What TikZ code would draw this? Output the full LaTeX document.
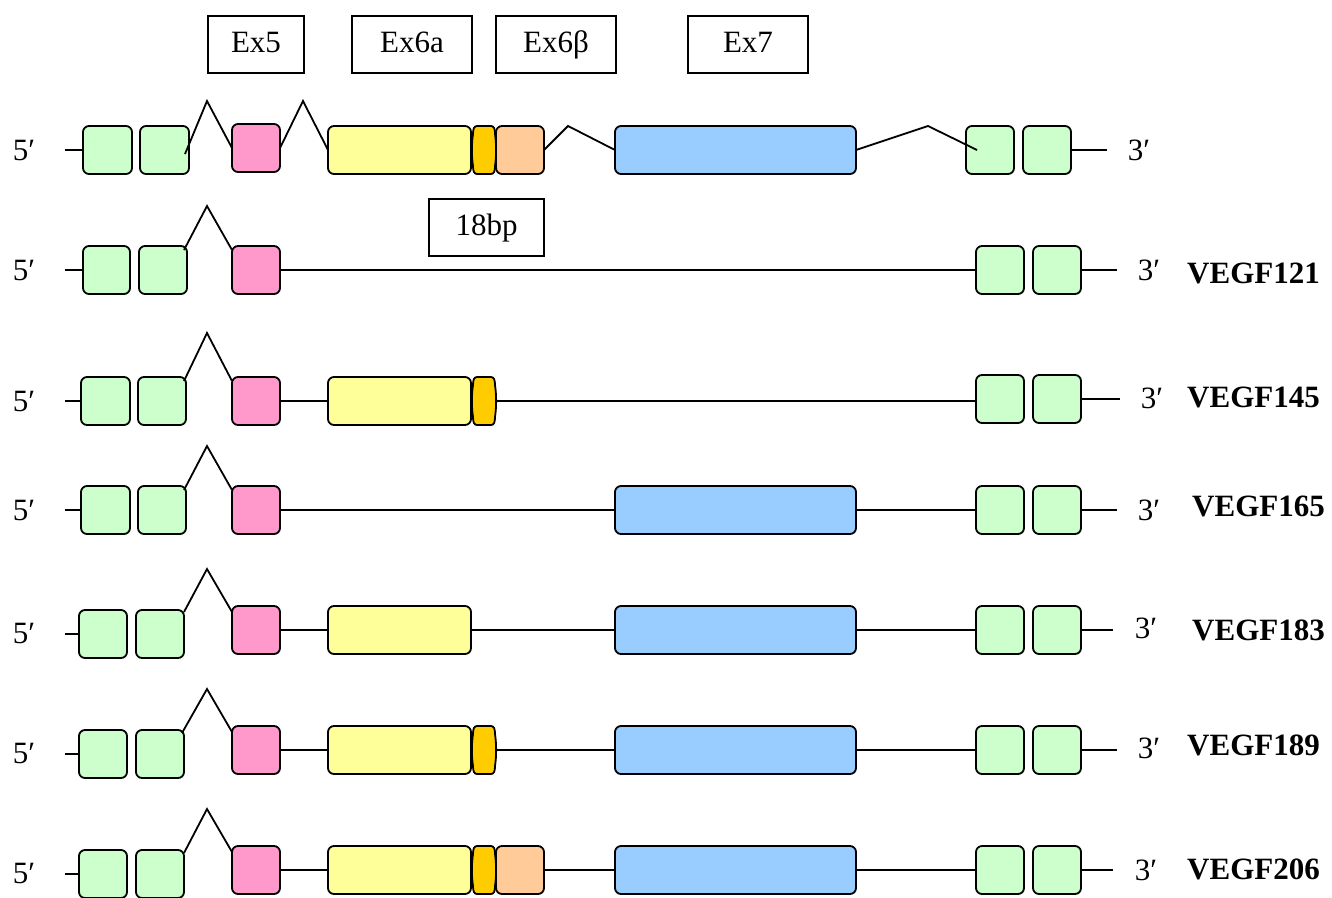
\documentclass[tikz,border=0pt]{standalone}
\usepackage{fontspec}
\setmainfont{Liberation Serif}
\definecolor{exgreen}{HTML}{CCFFCC}
\definecolor{expink}{HTML}{FF99CC}
\definecolor{exyellow}{HTML}{FFFF99}
\definecolor{exorange}{HTML}{FFCC00}
\definecolor{expeach}{HTML}{FFCC99}
\definecolor{exblue}{HTML}{99CCFF}
% \exon{name}{x1}{x2}{y1}{y2}{colour}
\newcommand\exon[6]{\node[exonbox,fill=#6,minimum width=#3pt-#2pt,minimum height=#5pt-#4pt] (#1) at ({(#2+#3)/2},{(#4+#5)/2}) {};}
% small barrel-shaped exon 6b segment: \barrel{name}{x}{top}{bottom}
\newcommand\barrel[4]{%
  \fill[exorange,draw=black,line width=1.8pt,line join=round]
    (477,#3) -- (491,#3) .. controls (494,#3) and (495,{#3+3}) .. (495,{#3+8})
    .. controls (496.5,{#3+18}) and (496.5,{#4-18}) .. (495,{#4-8})
    .. controls (495,{#4-3}) and (494,#4) .. (491,#4)
    -- (477,#4) .. controls (474,#4) and (473,{#4-3}) .. (473,{#4-8})
    .. controls (471.5,{#4-18}) and (471.5,{#3+18}) .. (473,{#3+8})
    .. controls (473,{#3+3}) and (474,#3) .. (477,#3) -- cycle;
  \coordinate (#1-e) at (496,{(#3+#4)/2});
  \coordinate (#1) at (484,{(#3+#4)/2});}
\tikzset{
  exonbox/.style={draw=black,line width=1.8pt,rounded corners=6pt,inner sep=0pt,outer sep=0pt},
  lbox/.style={draw=black,line width=1.2pt,inner sep=0pt,text height=21pt,text depth=6pt,font=\fontsize{31}{36}\selectfont},
  conn/.style={line width=1.8pt,line join=miter},
  prime/.style={inner sep=0pt,font=\fontsize{31}{36}\selectfont},
  vname/.style={inner sep=0pt,anchor=west,font=\fontsize{31}{36}\selectfont\bfseries},
}
\begin{document}
\begin{tikzpicture}[x=1pt,y=-1pt]
\useasboundingbox (0,0) rectangle (1332,897);
\clip (0,0) rectangle (1332,897);
% header labels
\node[lbox,minimum width=96pt,minimum height=57pt] (lex5) at (256,44.5) {Ex5};
\node[lbox,minimum width=120pt,minimum height=57pt] (lex6a) at (412,44.5) {Ex6a};
\node[lbox,minimum width=120pt,minimum height=57pt] (lex6b) at (556,44.5) {Ex6β};
\node[lbox,minimum width=120pt,minimum height=57pt] (lex7) at (748,44.5) {Ex7};
\node[lbox,minimum width=115pt,minimum height=57pt] (l18) at (486.5,227.5) {18bp};

% ---------- Row 1: gene ----------
\coordinate (a5) at (65,150);
\coordinate (a3) at (1107,150);
\node[prime] (a5t) at (24,150) {5′};
\node[prime] (a3t) at (1139,150) {3′};
\exon{ag1}{83}{132}{126}{174}{exgreen}
\exon{ag2}{140}{189}{126}{174}{exgreen}
\exon{ap}{232}{280}{124}{172}{expink}
\exon{ay}{328}{471}{126}{174}{exyellow}
\barrel{ao}{473}{126}{174}
\exon{apc}{496}{544}{126}{174}{expeach}
\exon{ab}{615}{856}{126}{174}{exblue}
\exon{ag3}{966}{1014}{126}{174}{exgreen}
\exon{ag4}{1023}{1071}{126}{174}{exgreen}
\coordinate (ak1) at (207,101);
\coordinate (ak2) at (303,101);
\coordinate (ak3) at (568,126);
\coordinate (ak4) at (928,126);
\draw[conn] (a5) -- (a5 -| ag1.west);
\draw[conn] (ag4.east) -- (ag4.east -| a3);
\draw[conn] ([xshift=-4pt,yshift=-4pt]ag2.east) -- (ak1) -- (ap.west);
\draw[conn] (ap.east) -- (ak2) -- (ay.west);
\draw[conn] (apc.east) -- (ak3) -- (ab.west);
\draw[conn] (ab.east) -- (ak4) -- ([xshift=11pt]ag3.west);

% ---------- Row 2: VEGF121 ----------
\coordinate (b5) at (65,270);
\coordinate (b3) at (1117,270);
\node[prime] (b5t) at (24,270) {5′};
\node[prime] (b3t) at (1149,270) {3′};
\node[vname] (bn) at (1187,273) {VEGF121};
\exon{bg1}{83}{130}{246}{294}{exgreen}
\exon{bg2}{139}{187}{246}{294}{exgreen}
\exon{bp}{232}{280}{246}{294}{expink}
\exon{bg3}{976}{1024}{246}{294}{exgreen}
\exon{bg4}{1033}{1081}{246}{294}{exgreen}
\coordinate (bk1) at (207,206);
\draw[conn] (b5) -- (b5 -| bg1.west);
\draw[conn] (bg4.east) -- (bg4.east -| b3);
\draw[conn] ([xshift=-3pt,yshift=20pt]bg2.east) -- (bk1) -- ([yshift=20pt]bp.west);
\draw[conn] (bp.east) -- (bp.east -| bg3.west);

% ---------- Row 3: VEGF145 ----------
\coordinate (c5) at (65,401);
\coordinate (c3) at (1120,401);
\node[prime] (c5t) at (24,401) {5′};
\node[prime] (c3t) at (1152,398) {3′};
\node[vname] (cn) at (1187,397) {VEGF145};
\exon{cg1}{81}{130}{377}{425}{exgreen}
\exon{cg2}{138}{186}{377}{425}{exgreen}
\exon{cp}{232}{280}{377}{425}{expink}
\exon{cy}{328}{471}{377}{425}{exyellow}
\barrel{co}{473}{377}{425}
\exon{cg3}{976}{1024}{375}{423}{exgreen}
\exon{cg4}{1033}{1081}{375}{423}{exgreen}
\coordinate (ck1) at (207,333);
\draw[conn] (c5) -- (c5 -| cg1.west);
\draw[conn] (cg4.east) -- (cg4.east -| c3);
\draw[conn] ([xshift=-2pt,yshift=20pt]cg2.east) -- (ck1) -- ([yshift=20pt]cp.west);
\draw[conn] (cp.east) -- (cp.east -| cy.west);
\draw[conn] (co-e) -- (co-e -| cg3.west);

% ---------- Row 4: VEGF165 ----------
\coordinate (d5) at (65,510);
\coordinate (d3) at (1117,510);
\node[prime] (d5t) at (24,510) {5′};
\node[prime] (d3t) at (1149,510) {3′};
\node[vname] (dn) at (1192,506) {VEGF165};
\exon{dg1}{81}{130}{486}{534}{exgreen}
\exon{dg2}{138}{186}{486}{534}{exgreen}
\exon{dp}{232}{280}{486}{534}{expink}
\exon{db}{615}{856}{486}{534}{exblue}
\exon{dg3}{976}{1024}{486}{534}{exgreen}
\exon{dg4}{1033}{1081}{486}{534}{exgreen}
\coordinate (dk1) at (207,446);
\draw[conn] (d5) -- (d5 -| dg1.west);
\draw[conn] (dg4.east) -- (dg4.east -| d3);
\draw[conn] ([xshift=-2pt,yshift=20pt]dg2.east) -- (dk1) -- ([yshift=20pt]dp.west);
\draw[conn] (dp.east) -- (dp.east -| db.west);
\draw[conn] (db.east) -- (db.east -| dg3.west);

% ---------- Row 5: VEGF183 ----------
\coordinate (e5) at (65,634);
\coordinate (e3) at (1113,628);
\node[prime] (e5t) at (24,633) {5′};
\node[prime] (e3t) at (1146,628) {3′};
\node[vname] (en) at (1192,630) {VEGF183};
\exon{eg1}{79}{127}{610}{658}{exgreen}
\exon{eg2}{136}{184}{610}{658}{exgreen}
\exon{ep}{232}{280}{606}{654}{expink}
\exon{ey}{328}{471}{606}{654}{exyellow}
\exon{eb}{615}{856}{606}{654}{exblue}
\exon{eg3}{976}{1024}{606}{654}{exgreen}
\exon{eg4}{1033}{1081}{606}{654}{exgreen}
\coordinate (ek1) at (207,569);
\draw[conn] (e5) -- (e5 -| eg1.west);
\draw[conn] (eg4.east) -- (eg4.east -| e3);
\draw[conn] ([yshift=22pt]eg2.east) -- (ek1) -- ([yshift=18pt]ep.west);
\draw[conn] (ep.east) -- (ep.east -| ey.west);
\draw[conn] (ey.east) -- (ey.east -| eb.west);
\draw[conn] (eb.east) -- (eb.east -| eg3.west);

% ---------- Row 6: VEGF189 ----------
\coordinate (f5) at (65,754);
\coordinate (f3) at (1117,750);
\node[prime] (f5t) at (24,753) {5′};
\node[prime] (f3t) at (1149,748) {3′};
\node[vname] (fn) at (1187,745) {VEGF189};
\exon{fg1}{79}{127}{730}{778}{exgreen}
\exon{fg2}{136}{184}{730}{778}{exgreen}
\exon{fp}{232}{280}{726}{774}{expink}
\exon{fy}{328}{471}{726}{774}{exyellow}
\barrel{fo}{473}{726}{774}
\exon{fb}{615}{856}{726}{774}{exblue}
\exon{fg3}{976}{1024}{726}{774}{exgreen}
\exon{fg4}{1033}{1081}{726}{774}{exgreen}
\coordinate (fk1) at (207,689);
\draw[conn] (f5) -- (f5 -| fg1.west);
\draw[conn] (fg4.east) -- (fg4.east -| f3);
\draw[conn] ([xshift=-2pt,yshift=21pt]fg2.east) -- (fk1) -- ([yshift=18pt]fp.west);
\draw[conn] (fp.east) -- (fp.east -| fy.west);
\draw[conn] (fo-e) -- (fo-e -| fb.west);
\draw[conn] (fb.east) -- (fb.east -| fg3.west);

% ---------- Row 7: VEGF206 ----------
\coordinate (g5) at (65,874);
\coordinate (g3c) at (1113,870);
\node[prime] (g5t) at (24,873) {5′};
\node[prime] (g3t) at (1146,870) {3′};
\node[vname] (gn) at (1187,869) {VEGF206};
\exon{gg1}{79}{127}{850}{898}{exgreen}
\exon{gg2}{136}{184}{850}{898}{exgreen}
\exon{gp}{232}{280}{846}{894}{expink}
\exon{gy}{328}{471}{846}{894}{exyellow}
\barrel{go}{473}{846}{894}
\exon{gpc}{496}{544}{846}{894}{expeach}
\exon{gb}{615}{856}{846}{894}{exblue}
\exon{gg3}{976}{1024}{846}{894}{exgreen}
\exon{gg4}{1033}{1081}{846}{894}{exgreen}
\coordinate (gk1) at (207,809);
\draw[conn] (g5) -- (g5 -| gg1.west);
\draw[conn] (gg4.east) -- (gg4.east -| g3c);
\draw[conn] ([yshift=21pt]gg2.east) -- (gk1) -- ([yshift=18pt]gp.west);
\draw[conn] (gp.east) -- (gp.east -| gy.west);
\draw[conn] (gpc.east) -- (gpc.east -| gb.west);
\draw[conn] (gb.east) -- (gb.east -| gg3.west);
\end{tikzpicture}
\end{document}
